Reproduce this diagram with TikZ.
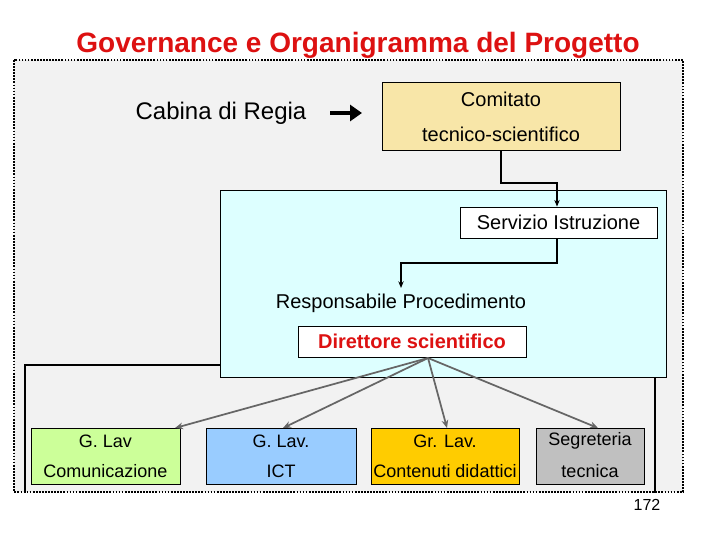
\documentclass[tikz,border=0pt]{standalone}
\usepackage{fontspec}
\setmainfont{Liberation Sans}
\usetikzlibrary{arrows.meta}
\definecolor{bgg}{HTML}{F2F2F2}
\definecolor{cy}{HTML}{DDFFFF}
\definecolor{cmt}{HTML}{F8E6A8}
\definecolor{gr}{HTML}{CCFF99}
\definecolor{bl}{HTML}{99CCFF}
\definecolor{og}{HTML}{FFCC00}
\definecolor{gy}{HTML}{C0C0C0}
\definecolor{tred}{HTML}{DD1111}
\begin{document}
\begin{tikzpicture}[x=0.75pt,y=-0.75pt,
  box/.style={draw=black,line width=0.6pt,inner sep=0pt},
  lab/.style={font=\fontsize{13.5}{15}\selectfont,align=center},
  garr/.style={draw=black!60,line width=1.3pt,-{Stealth[length=6pt,width=5pt]}},
  karr/.style={draw=black,line width=1pt,-{Stealth[length=5pt,width=4pt]}}]
\useasboundingbox (0,0) rectangle (720,540);
\node[font=\bfseries\fontsize{21}{24}\selectfont,text=tred] (title) at (358,45) {Governance e Organigramma del Progetto};
\draw[fill=bgg,densely dotted,line width=1.3pt] (14,60) rectangle (683,492);
\draw[line width=0.8pt] (25,493) -- (25,365) -- (655,365) -- (655,493);
\draw[fill=cy,line width=0.6pt] (220,190) rectangle (666,377);
\node[box,fill=cmt,minimum width=238*0.75pt,minimum height=68*0.75pt] (cm) at (501,116) {};
\node[lab,font=\fontsize{15}{17}\selectfont] (cm1) at (501,99) {Comitato};
\node[lab,font=\fontsize{15}{17}\selectfont] (cm2) at (501,134) {tecnico-scientifico};
\node[font=\fontsize{18}{21}\selectfont] (cab) at (221,113) {Cabina di Regia};
\coordinate (a1) at (330,113); \coordinate (a2) at (362,113);
\draw[line width=3.5pt,-{Triangle[length=9pt,width=12pt]}] (a1) -- (a2);
\node[box,fill=white,minimum width=197*0.75pt,minimum height=31*0.75pt,font=\fontsize{15}{17}\selectfont] (srv) at (558.5,222.5) {Servizio Istruzione};
\node[font=\fontsize{15}{17}\selectfont] (resp) at (401,303) {Responsabile Procedimento};
\node[box,fill=white,minimum width=228*0.75pt,minimum height=31*0.75pt,font=\bfseries\fontsize{15}{17}\selectfont,text=tred] (dir) at (412,341.5) {Direttore scientifico};
\coordinate (c1) at (501,183); \coordinate (c2) at (557,183);
\draw[karr] (cm.south -| c1) -- (c1) -- (c2) -- (srv.north -| c2);
\coordinate (d1) at (557,263); \coordinate (d2) at (401,263); \coordinate (d3) at (401,288);
\draw[karr] (srv.south -| d1) -- (d1) -- (d2) -- (d3);
\node[box,fill=gr,minimum width=149*0.75pt,minimum height=56*0.75pt] (g1) at (105.5,456) {};
\node[box,fill=bl,minimum width=150*0.75pt,minimum height=56*0.75pt] (g2) at (281,456) {};
\node[box,fill=og,minimum width=148*0.75pt,minimum height=56*0.75pt] (g3) at (445,456) {};
\node[box,fill=gy,minimum width=108*0.75pt,minimum height=56*0.75pt] (g4) at (590,456) {};
\foreach \n/\x/\a/\b in {t1/105.5/G. Lav/Comunicazione,t2/281/G. Lav./ICT,t3/445/Gr. Lav./Contenuti didattici,t4/590/Segreteria/tecnica}{
  \node[lab] (\n a) at (\x,441) {\a};
  \node[lab] (\n b) at (\x,471) {\b};}
\coordinate (ds) at (428,358);
\coordinate (e1) at (175,428); \coordinate (e2) at (283,428);
\coordinate (e3) at (447,428); \coordinate (e4) at (598,428);
\foreach \e in {e1,e2,e3,e4} \draw[garr] (ds) -- (\e);
\node[font=\fontsize{12}{14}\selectfont] (pg) at (647,505) {172};
\end{tikzpicture}
\end{document}
